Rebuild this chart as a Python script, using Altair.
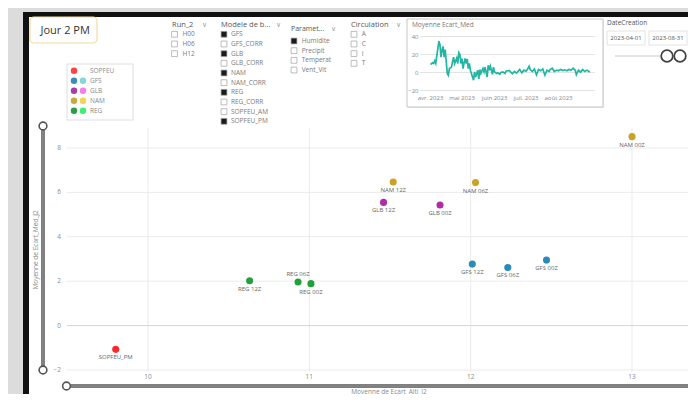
import altair as alt
import pandas as pd

FONT = "Open Sans"

# ---------------- main scatter data ----------------
pt_model = ["SOPFEU", "REG", "REG", "REG", "NAM", "NAM", "NAM", "GLB", "GLB", "GFS", "GFS", "GFS"]
pt_label = ["SOPFEU_PM", "REG 12Z", "REG 06Z", "REG 00Z", "NAM 00Z", "NAM 12Z", "NAM 06Z",
            "GLB 12Z", "GLB 00Z", "GFS 12Z", "GFS 06Z", "GFS 00Z"]
pt_alti = [9.80, 10.63, 10.93, 11.01, 13.00, 11.52, 12.03, 11.46, 11.81, 12.01, 12.23, 12.47]
pt_med = [-1.07, 2.02, 1.96, 1.89, 8.51, 6.47, 6.44, 5.55, 5.43, 2.77, 2.62, 2.95]
labels_above = ["REG 06Z"]
model_domain = ["SOPFEU", "GFS", "GLB", "NAM", "REG"]
model_color = ["#fb2b2b", "#2b8ab9", "#b02ca6", "#c9a226", "#22a03c"]
x_ticks = [10, 11, 12, 13]
y_ticks = [-2, 0, 2, 4, 6, 8]
x_title = "Moyenne de Ecart_Alti_J2"
y_title = "Moyenne de Ecart_Med_J2"

# ---------------- legend (top left) ----------------
leg_models = ["SOPFEU", "GFS", "GLB", "NAM", "REG"]
leg_dark = ["#ff4343", "#3b8db8", "#a63fa3", "#c6a83c", "#2e9b4b"]
leg_light_models = ["GFS", "GLB", "NAM", "REG"]
leg_light = ["#86d8d6", "#f77df2", "#f4d35b", "#3ef06f"]

# ---------------- mini line chart ----------------
mini_day = [0, 2, 3, 4, 5, 7, 8, 9, 10, 11, 12, 13, 14, 15, 16, 17, 18, 20, 21, 22, 23, 25, 26, 27,
            28, 29, 30, 31, 32, 33, 34, 35, 36, 37, 38, 39, 41, 42, 43, 45, 46, 47, 48, 50, 51, 52,
            54, 55, 56, 57, 59, 60, 61, 63, 64, 66, 67, 69, 71, 72, 75, 78, 80, 82, 85, 87, 89, 91,
            93, 94, 95, 97, 99, 101, 103, 105, 107, 109, 111, 113, 114, 116, 118, 120, 122, 124,
            126, 128, 130, 132, 134, 136, 138, 139, 141, 143, 145, 147, 149, 151, 152]
mini_val = [8.9, 10.7, 10, 13, 10, 26.7, 34.8, 31, 17, 25, 29, 17, 25.5, 12, -1, -3, 4.4, 6, 12, 17,
            10, 16, 10, 22, 20, 10, 15.5, 4.4, 10.7, 15.5, 10, 15, 4.4, 10, 2.6, -1, -8.5, 0.7, -5,
            2.6, -7, 3.3, -1, 4.4, 0.7, 6, -5, 8, 2.6, 7, -2, 6, 0.7, -1, -0.4, -2, 0, 0.7, -1, 1.5,
            2.2, -1.5, 1.1, -0.7, 3.3, -0.4, 2.6, 1.5, 4.8, 7, 3.3, 1.1, 4, -2.5, 3.3, 1.9, 4, -3,
            2.6, 1.1, 3.3, 4.8, 1.1, 2.6, 1.9, 3.3, 2.2, 3, 1.9, 3.3, 2.6, 4.8, 2.2, -2.5, 2.6, 0.4,
            3.3, 1.1, 2.6, 1.1, 0.4]
mini_yticks = [-20, 0, 20, 40]
mini_month_day = [0, 30, 61, 91, 122]
mini_month_lbl = ["avr. 2023", "mai 2023", "juin 2023", "juil. 2023", "août 2023"]

# ---------------- slicers ----------------
run_items = ["H00", "H06", "H12"]
run_checked = [False, False, False]
modele_items = ["GFS", "GFS_CORR", "GLB", "GLB_CORR", "NAM", "NAM_CORR", "REG", "REG_CORR",
                "SOPFEU_AM", "SOPFEU_PM"]
modele_checked = [True, False, True, False, True, False, True, False, False, True]
param_items = ["Humidite", "Precipit", "Temperat", "Vent_Vit"]
param_checked = [True, False, False, False]
circ_items = ["A", "C", "I", "T"]
circ_checked = [False, False, False, False]
date_from, date_to = "2023-04-01", "2023-08-31"

# ---------------- layout helpers (page pixel -> plot pixel) ----------------
OX, OY = 67, 128
W, H = 621, 244
ROW = 9.67


def px(x):
    return x - OX


def py(y):
    return y - OY


one = pd.DataFrame({"k": [0]})


def box(x1, y1, x2, y2, **kw):
    return alt.Chart(one).mark_rect(**kw).encode(
        x=alt.value(px(x1)), x2=alt.value(px(x2)), y=alt.value(py(y1)), y2=alt.value(py(y2)))


def label(s, x, y, size=6.5, color="#666666", align="left", **kw):
    return alt.Chart(one).mark_text(text=s, align=align, baseline="middle", fontSize=size,
                                    color=color, font=FONT, **kw).encode(
        x=alt.value(px(x)), y=alt.value(py(y)))


def hline(x1, x2, y, color, w):
    return alt.Chart(one).mark_rule(color=color, strokeWidth=w).encode(
        x=alt.value(px(x1)), x2=alt.value(px(x2)), y=alt.value(py(y)))


def vline(x, y1, y2, color, w):
    return alt.Chart(one).mark_rule(color=color, strokeWidth=w).encode(
        x=alt.value(px(x)), y=alt.value(py(y1)), y2=alt.value(py(y2)))


def knob(x, y, size, stroke, w):
    return alt.Chart(one).mark_point(shape="circle", filled=True, fill="white", stroke=stroke,
                                     strokeWidth=w, size=size, opacity=1, fillOpacity=1,
                                     strokeOpacity=1).encode(x=alt.value(px(x)), y=alt.value(py(y)))


decor = [
    box(8, 8, 23, 394, color="#dcdcdc"),
    box(8, 8, 688, 12, color="#dcdcdc"),
    box(23, 12, 688, 17, color="#111111"),
    box(23, 12, 29, 394, color="#111111"),
    # title card
    box(30, 17, 97, 43, fill="white", stroke="#eedd9e", strokeWidth=1.2, cornerRadius=4),
    label("Jour 2 PM", 40.5, 30.5, size=11, color="#333333"),
    # legend card
    box(67, 64, 133, 120, fill="white", stroke="#dedede", strokeWidth=1),
    # slicer headers
    label("Run_2", 172, 24.6, size=7.5, color="#555555"),
    label("\u2228", 204, 24.6, size=6.5, color="#a0a0a0", align="center"),
    label("Modele de b...", 221, 24.6, size=7.5, color="#555555"),
    label("\u2228", 278, 24.6, size=6.5, color="#a0a0a0", align="center"),
    label("Paramet...", 291, 29, size=7, color="#555555"),
    label("\u2228", 333, 29, size=6.5, color="#a0a0a0", align="center"),
    label("Circulation", 351, 24.6, size=7.5, color="#555555"),
    label("\u2228", 398, 24.6, size=6.5, color="#a0a0a0", align="center"),
    # mini chart card
    box(408, 20, 604, 108, color="#e8e8e8"),
    box(407, 19, 603, 107, fill="white", stroke="#c6c6c6", strokeWidth=1),
    label("Moyenne Ecart_Med", 412, 25, size=6.5, color="#777777"),
    # date slicer
    label("DateCreation", 607, 23, size=6.5, color="#555555"),
    box(607, 31, 645, 45, fill="white", stroke="#e2e2e2", strokeWidth=1),
    box(649, 31, 687, 45, fill="white", stroke="#e2e2e2", strokeWidth=1),
    label(date_from, 626, 38, size=6, color="#555555", align="center"),
    label(date_to, 668, 38, size=6, color="#555555", align="center"),
    hline(615, 660, 56, "#c8c8c8", 1),
    knob(667, 56, 135, "#444444", 1.8),
    knob(680, 56, 135, "#444444", 1.8),
    # range sliders of the scatter
    vline(43, 126, 370, "#555555", 3.5),
    vline(43, 126, 370, "#b0b0b0", 1),
    knob(43, 126, 60, "#555555", 1.6),
    knob(43, 370, 60, "#555555", 1.6),
    hline(66, 688, 386, "#555555", 3.5),
    hline(66, 688, 386, "#b0b0b0", 1),
    knob(66.5, 386, 60, "#555555", 1.6),
    # axis titles
    label(y_title, 36, 250, size=6.5, color="#8a8a8a", align="center", angle=270),
    label(x_title, 389, 391.5, size=6.5, color="#8a8a8a", align="center"),
]

# ---------------- main scatter ----------------
pts = pd.DataFrame({"model": pt_model, "label": pt_label, "alti": pt_alti, "med": pt_med})
xscale = alt.Scale(domain=[9.498, 13.347], nice=False, zero=False)
yscale = alt.Scale(domain=[-2.09, 8.9], nice=False, zero=False)
xt_df = pd.DataFrame({"t": x_ticks})
yt_df = pd.DataFrame({"t": y_ticks})

xgrid = alt.Chart(xt_df).mark_rule(color="#ebebeb", strokeWidth=1).encode(
    x=alt.X("t:Q", scale=xscale, axis=None), y=alt.value(0), y2=alt.value(H))
ygrid = alt.Chart(yt_df).mark_rule(strokeWidth=1).encode(
    y=alt.Y("t:Q", scale=yscale, axis=None), x=alt.value(0), x2=alt.value(W),
    color=alt.condition("datum.t == 0", alt.value("#d6d6d6"), alt.value("#ebebeb")))
xlab = alt.Chart(xt_df).mark_text(align="center", baseline="middle", fontSize=6.5,
                                  color="#8a8a8a", font=FONT).encode(
    x=alt.X("t:Q", scale=xscale, axis=None), y=alt.value(py(377)), text="t:Q")
ylab = alt.Chart(yt_df).mark_text(align="right", baseline="middle", fontSize=6.5,
                                  color="#8a8a8a", font=FONT).encode(
    y=alt.Y("t:Q", scale=yscale, axis=None), x=alt.value(px(61)), text="t:Q")

Xn = alt.X("alti:Q", scale=xscale, axis=None)
Yn = alt.Y("med:Q", scale=yscale, axis=None)
above_expr = "indexof(" + str(labels_above).replace("'", '"') + ", datum.label)"

points = alt.Chart(pts).mark_circle(size=50, opacity=1).encode(
    x=Xn, y=Yn,
    color=alt.Color("model:N", scale=alt.Scale(domain=model_domain, range=model_color), legend=None))
lab_below = alt.Chart(pts).transform_filter(above_expr + " < 0").mark_text(
    dy=8, fontSize=6, color="#666666", font=FONT, baseline="middle").encode(
    x=Xn, y=Yn, text="label:N")
lab_above = alt.Chart(pts).transform_filter(above_expr + " >= 0").mark_text(
    dy=-8.5, fontSize=6, color="#666666", font=FONT, baseline="middle").encode(
    x=Xn, y=Yn, text="label:N")
main = alt.layer(xgrid, ygrid, xlab, ylab, points, lab_below, lab_above)

# ---------------- mini chart ----------------
mini_df = pd.DataFrame({"day": mini_day, "val": mini_val})
mx = alt.Scale(domain=[0, 152], range=[px(430.5), px(590)], nice=False, zero=False)
my = alt.Scale(domain=[-20, 40], range=[py(90.5), py(36.5)], nice=False, zero=False)
ytick_df = pd.DataFrame({"v": mini_yticks})
month_df = pd.DataFrame({"d": mini_month_day, "lbl": mini_month_lbl})
mini_grid = alt.Chart(ytick_df).mark_rule(color="#e3e3e3", strokeWidth=1).encode(
    y=alt.Y("v:Q", scale=my, axis=None), x=alt.value(px(420)), x2=alt.value(px(595)))
mini_ylab = alt.Chart(ytick_df).mark_text(align="right", baseline="middle", fontSize=6,
                                          color="#888888", font=FONT).encode(
    y=alt.Y("v:Q", scale=my, axis=None), x=alt.value(px(418.5)), text="v:Q")
mini_xlab = alt.Chart(month_df).mark_text(align="center", baseline="middle", fontSize=6,
                                          color="#888888", font=FONT).encode(
    x=alt.X("d:Q", scale=mx, axis=None), y=alt.value(py(97.5)), text="lbl:N")
mini_line = alt.Chart(mini_df).mark_line(color="#22b5a3", strokeWidth=1.7).encode(
    x=alt.X("day:Q", scale=mx, axis=None), y=alt.Y("val:Q", scale=my, axis=None))
mini = alt.layer(mini_grid, mini_ylab, mini_xlab, mini_line)

# ---------------- legend card ----------------
leg_df = pd.DataFrame({"model": leg_models})
ly = alt.Y("model:N", scale=alt.Scale(domain=leg_models, range=[py(70.7), py(110.7)], padding=0),
           axis=None)
leg_dark_l = alt.Chart(leg_df).mark_circle(size=42, opacity=1).encode(
    x=alt.value(px(74)), y=ly,
    color=alt.Color("model:N", scale=alt.Scale(domain=leg_models, range=leg_dark), legend=None))
leg_light_l = alt.Chart(leg_df).transform_filter(
    alt.FieldOneOfPredicate(field="model", oneOf=leg_light_models)
).mark_circle(size=42, opacity=1).encode(
    x=alt.value(px(83)), y=ly,
    fill=alt.Fill("model:N", scale=alt.Scale(domain=leg_light_models, range=leg_light), legend=None))
leg_text = alt.Chart(leg_df).mark_text(align="left", baseline="middle", fontSize=6.5,
                                       color="#8a8a8a", font=FONT).encode(
    x=alt.value(px(90)), y=ly, text="model:N")
legend_card = alt.layer(leg_dark_l, leg_light_l, leg_text)


# ---------------- slicers ----------------
def slicer(items, checked, box_x, text_x, top):
    df = pd.DataFrame({"item": items, "row": list(range(len(items))), "checked": checked})
    yenc = alt.Y("row:Q", scale=alt.Scale(domain=[0, 9], range=[py(top), py(top + 9 * ROW)],
                                          nice=False, zero=False), axis=None)
    boxes = alt.Chart(df).mark_square(size=34, filled=True, stroke="#a0a0a0", strokeWidth=0.7,
                                      opacity=1).encode(
        x=alt.value(px(box_x)), y=yenc,
        fill=alt.condition("datum.checked", alt.value("#1b1b1b"), alt.value("white")))
    texts = alt.Chart(df).mark_text(align="left", baseline="middle", fontSize=6.5,
                                    color="#7a7a7a", font=FONT).encode(
        x=alt.value(px(text_x)), y=yenc, text="item:N")
    return alt.layer(boxes, texts)


slicers = [
    slicer(run_items, run_checked, 174.5, 182.5, 34.3),
    slicer(modele_items, modele_checked, 224, 231, 34.3),
    slicer(param_items, param_checked, 294, 301.7, 41),
    slicer(circ_items, circ_checked, 354, 361.7, 34.3),
]

chart = alt.layer(*decor, main, mini, legend_card, *slicers).resolve_scale(
    x="independent", y="independent", color="independent", fill="independent"
).properties(
    width=W, height=H, background="white",
    padding={"left": 59, "top": 120, "right": 0, "bottom": 22},
    autosize=alt.AutoSizeParams(type="none"),
).configure_view(fill="white", strokeWidth=0)

chart.save("out.html", embed_options={"renderer": "svg", "actions": False})
